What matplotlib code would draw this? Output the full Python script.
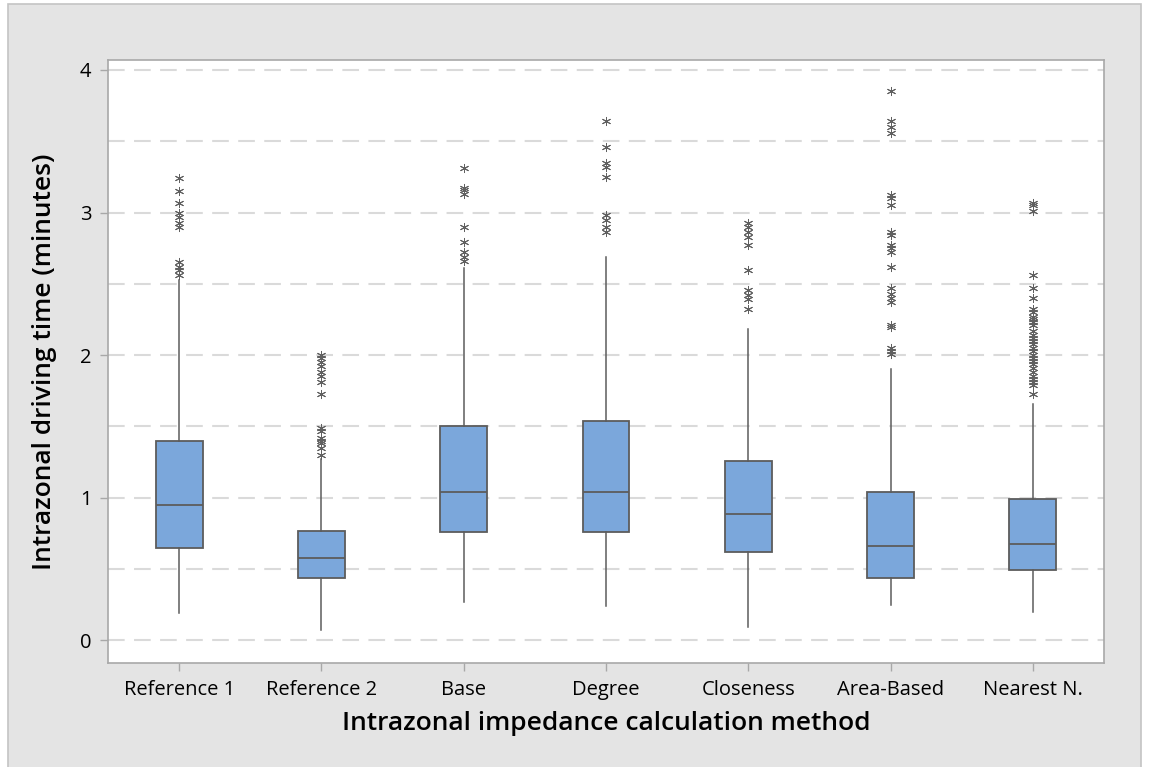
import matplotlib
matplotlib.use("Agg")
import matplotlib.pyplot as plt
from matplotlib.patches import Rectangle
import numpy as np

# Intrazonal driving time (minutes) summary per calculation method
methods = ["Reference 1", "Reference 2", "Base", "Degree",
           "Closeness", "Area-Based", "Nearest N."]
q1 = [0.646, 0.435, 0.758, 0.758, 0.620, 0.435, 0.490]
median = [0.947, 0.575, 1.040, 1.040, 0.884, 0.660, 0.674]
q3 = [1.400, 0.765, 1.500, 1.540, 1.260, 1.040, 0.990]
whisker_low = [0.19, 0.07, 0.27, 0.24, 0.09, 0.245, 0.20]
whisker_high = [2.53, 1.27, 2.61, 2.69, 2.18, 1.90, 1.66]

outliers_ref1 = [3.24, 3.15, 3.07, 3.00, 2.97, 2.93, 2.90, 2.65, 2.62, 2.60, 2.56]
outliers_ref2 = [2.00, 1.98, 1.95, 1.92, 1.88, 1.85, 1.81, 1.73,
                 1.49, 1.47, 1.42, 1.40, 1.38, 1.35, 1.30]
outliers_base = [3.31, 3.17, 3.16, 3.13, 2.90, 2.79, 2.72, 2.69, 2.66]
outliers_degree = [3.64, 3.46, 3.35, 3.32, 3.25, 2.98, 2.95, 2.90, 2.86]
outliers_closeness = [2.93, 2.90, 2.86, 2.83, 2.77, 2.60, 2.46, 2.42, 2.39, 2.32]
outliers_area = [3.85, 3.64, 3.60, 3.56, 3.12, 3.10, 3.05, 2.86, 2.84,
                 2.77, 2.75, 2.72, 2.62, 2.47, 2.43, 2.40, 2.37, 2.21,
                 2.20, 2.05, 2.03, 2.01]
outliers_nearest = [3.07, 3.05, 3.01, 2.56, 2.47, 2.40, 2.32, 2.30, 2.27,
                    2.25, 2.23, 2.21, 2.17, 2.14, 2.12, 2.10, 2.08, 2.05,
                    2.03, 2.00, 1.98, 1.96, 1.94, 1.91, 1.88, 1.85, 1.83,
                    1.81, 1.79, 1.73]
outliers = [outliers_ref1, outliers_ref2, outliers_base, outliers_degree,
            outliers_closeness, outliers_area, outliers_nearest]

yticks = [0, 1, 2, 3, 4]

plt.rcParams["font.family"] = ["Open Sans", "DejaVu Sans"]

W, H = 1149, 767
fig = plt.figure(figsize=(W / 100, H / 100), dpi=100)
fig.patch.set_facecolor("white")
fig.patches.append(Rectangle((8 / W, -0.05), (1141 - 8) / W, 1.05 - 4 / H,
                             transform=fig.transFigure, facecolor="#e4e4e4",
                             edgecolor="#c4c4c4", linewidth=1.2, zorder=-10))

ax = fig.add_axes([108 / W, 1 - 663 / H, (1104 - 108) / W, (663 - 60) / H])
ax.set_facecolor("white")

stats = []
for i, name in enumerate(methods):
    stats.append(dict(label=name, med=median[i], q1=q1[i], q3=q3[i],
                      whislo=whisker_low[i], whishi=whisker_high[i],
                      fliers=np.array(outliers[i])))

edge = "#5c5c5c"
ax.bxp(stats, positions=range(1, len(methods) + 1), widths=0.33,
       patch_artist=True, showcaps=False,
       boxprops=dict(facecolor="#7ba7db", edgecolor=edge, linewidth=1.3),
       medianprops=dict(color=edge, linewidth=1.3),
       whiskerprops=dict(color="#5c5c5c", linewidth=1.1),
       flierprops=dict(marker=(6, 2, 0), markersize=6.5, markeredgewidth=0.7,
                       markeredgecolor="#606060", linestyle="none"),
       zorder=3)

ax.set_xlim(0.5, 7.5)
ax.set_ylim(-0.16, 4.07)

for y in np.arange(0, 4.01, 0.5):
    ax.axhline(y, color="#dadada", linewidth=1.5, dashes=(8, 4.5), zorder=1)

ax.set_yticks(yticks)
ax.set_yticklabels([str(t) for t in yticks])
ax.set_xticks(range(1, len(methods) + 1))
ax.set_xticklabels(methods)

for s in ax.spines.values():
    s.set_color("#a8a8a8")
    s.set_linewidth(1.2)

ax.tick_params(axis="both", direction="out", length=6, width=1,
               color="#a8a8a8", labelsize=14.5, labelcolor="black")
for lbl in ax.get_xticklabels() + ax.get_yticklabels():
    lbl.set_fontweight("medium")
ax.tick_params(axis="x", pad=6)
ax.tick_params(axis="y", pad=6)

ax.set_xlabel("Intrazonal impedance calculation method", fontsize=19,
              fontweight="semibold", labelpad=8)
ax.set_ylabel("Intrazonal driving time (minutes)", fontsize=19,
              fontweight="semibold", labelpad=16)

fig.savefig("out.png", dpi=100, facecolor=fig.get_facecolor())
